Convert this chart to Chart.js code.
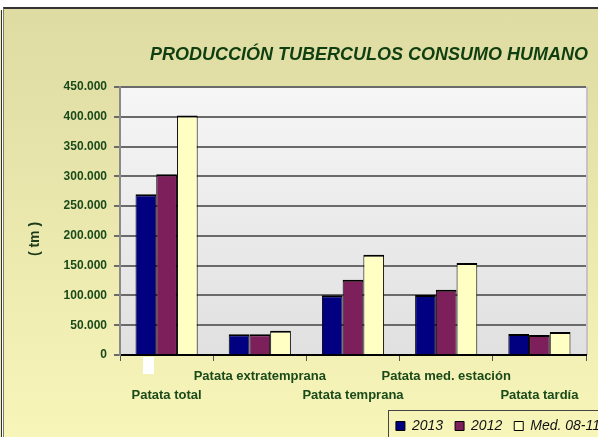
<!DOCTYPE html>
<html>
<head>
<meta charset="utf-8">
<script src="https://cdn.jsdelivr.net/npm/chart.js@4/dist/chart.umd.min.js"></script>
<style>
  html, body { margin: 0; padding: 0; background: #ffffff; overflow: hidden; width: 598px; height: 437px; }
  #strip { position: absolute; left: 0; top: 10px; width: 1px; height: 440px; background: #f0eeb2; border-right: 1px solid #333; }
  #frame { position: absolute; left: 3px; top: 7px; width: 660px; height: 460px;
           border-left: 1px solid #7a7a7a; border-top: 2px solid #333;
           background: linear-gradient(to bottom, #dedba3 0%, #f9f7ba 100%); }
  #c { position: absolute; left: 0; top: 0; }
  #patch { position: absolute; left: 143px; top: 357px; width: 11px; height: 17px; background: #ffffff; }
</style>
</head>
<body>
<div id="strip"></div>
<div id="frame"><canvas id="c" width="608" height="434"></canvas></div>
<div id="patch"></div>
<script>
const categories = ['Patata total', 'Patata extratemprana', 'Patata temprana', 'Patata med. estación', 'Patata tardía'];
const seriesNames = ['2013', '2012', 'Med. 08-11'];
const values2013 = [270000, 35000, 100500, 100700, 35300];
const values2012 = [303500, 34700, 126500, 109700, 33600];
const valuesMed = [402000, 40800, 168400, 154500, 38600];
const yTicks = [0, 50000, 100000, 150000, 200000, 250000, 300000, 350000, 400000, 450000];
const chartTitle = 'PRODUCCIÓN TUBERCULOS CONSUMO HUMANO';
const yTitle = '( tm )';

const green = '#0f3f10';
const labelGreen = '#1a4a1a';

const bgPlugin = {
  id: 'plotBg',
  beforeDraw(chart) {
    const {ctx, chartArea: a} = chart;
    const g = ctx.createLinearGradient(0, a.top, 0, a.bottom);
    g.addColorStop(0, '#f6f6f6');
    g.addColorStop(1, '#e0e0e0');
    ctx.save();
    ctx.fillStyle = g;
    ctx.fillRect(a.left, a.top, a.right - a.left, a.bottom - a.top);
    ctx.strokeStyle = '#c4c4c4';
    ctx.lineWidth = 2;
    ctx.beginPath();
    ctx.moveTo(a.right + 1, a.top);
    ctx.lineTo(a.right + 1, a.bottom);
    ctx.stroke();
    ctx.restore();
  }
};

const textPlugin = {
  id: 'texts',
  afterDraw(chart) {
    const {ctx, chartArea: a} = chart;
    ctx.save();
    ctx.fillStyle = green;
    ctx.font = 'italic bold 18px "Liberation Sans", Arial, sans-serif';
    ctx.textAlign = 'center';
    ctx.textBaseline = 'middle';
    ctx.fillText(chartTitle, 365, 46);
    ctx.translate(31, (a.top + a.bottom) / 2 + 18);
    ctx.rotate(-Math.PI / 2);
    ctx.font = 'bold 14px "Liberation Sans", Arial, sans-serif';
    ctx.fillStyle = '#1c3a1c';
    ctx.fillText(yTitle, 0, 0);
    ctx.restore();
    const lg = chart.legend;
    if (lg && lg.legendHitBoxes && lg.legendHitBoxes.length) {
      const hb = lg.legendHitBoxes[0];
      ctx.save();
      ctx.strokeStyle = '#444';
      ctx.lineWidth = 1;
      ctx.strokeRect(Math.round(hb.left) - 7.5, Math.round(hb.top + hb.height / 2) - 15.5, 400, 100);
      ctx.restore();
    }
  }
};

const barBorder = { top: 2, left: 1, right: 1, bottom: 0 };

const ctx = document.getElementById('c').getContext('2d');
new Chart(ctx, {
  type: 'bar',
  data: {
    labels: categories,
    datasets: [
      { label: seriesNames[0], data: values2013, backgroundColor: '#000080', borderColor: '#000', borderWidth: barBorder },
      { label: seriesNames[1], data: values2012, backgroundColor: '#7d1f5a', borderColor: '#000', borderWidth: barBorder },
      { label: seriesNames[2], data: valuesMed, backgroundColor: '#ffffc4', borderColor: '#000', borderWidth: barBorder }
    ]
  },
  options: {
    responsive: false,
    animation: false,
    devicePixelRatio: 1,
    layout: { padding: { left: 0, right: 0, top: 78, bottom: 0 } },
    datasets: { bar: { categoryPercentage: 0.667, barPercentage: 1.0, borderSkipped: false } },
    plugins: {
      title: { display: false },
      tooltip: { enabled: false },
      legend: {
        display: true,
        position: 'bottom',
        align: 'end',
        labels: {
          boxWidth: 9,
          boxHeight: 9,
          padding: 12,
          color: '#111',
          font: { family: '"Liberation Sans", Arial, sans-serif', size: 14, style: 'italic' },
          generateLabels(chart) {
            const items = Chart.defaults.plugins.legend.labels.generateLabels(chart);
            items.forEach(i => { i.lineWidth = 1; });
            return items;
          }
        }
      }
    },
    scales: {
      x: {
        grid: { offset: true, drawOnChartArea: false, tickLength: 6, color: '#555', lineWidth: 1 },
        border: { display: true, color: '#000', width: 2 },
        ticks: {
          autoSkip: false,
          maxRotation: 0,
          padding: 6,
          color: labelGreen,
          font: { family: '"Liberation Sans", Arial, sans-serif', size: 13, weight: 'bold', lineHeight: '19px' },
          callback(value, index) {
            const l = categories[index];
            return index % 2 === 0 ? ['', l] : [l, ''];
          }
        },
        afterFit(s) { s.height = 52; }
      },
      y: {
        min: 0,
        max: 450000,
        afterBuildTicks(s) { s.ticks = yTicks.map(v => ({ value: v })); },
        grid: { color: '#6a6a6a', lineWidth: 2, tickLength: 6 },
        border: { display: true, color: '#8a8a8a', width: 2 },
        ticks: {
          padding: 7,
          color: labelGreen,
          font: { family: '"Liberation Sans", Arial, sans-serif', size: 12, weight: 'bold' },
          callback(v) { return v === 0 ? '0' : v.toLocaleString('de-DE'); }
        },
        afterFit(s) { s.width = 116; }
      },
      spacer: {
        type: 'linear',
        position: 'right',
        display: true,
        grid: { display: false, drawTicks: false },
        border: { display: false },
        ticks: { display: false },
        afterFit(s) { s.width = 26; }
      }
    }
  },
  plugins: [bgPlugin, textPlugin]
});
</script>
</body>
</html>
